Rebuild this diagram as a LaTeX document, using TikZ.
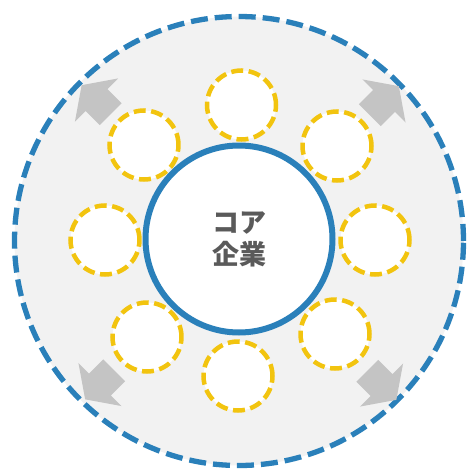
\documentclass[tikz,border=0pt]{standalone}
\usepackage{fontspec}
\newfontfamily\cjk{Noto Sans CJK JP}
\definecolor{cblue}{HTML}{2A80BA}
\definecolor{cyellow}{HTML}{F2C40F}
\definecolor{cbg}{HTML}{F2F2F2}
\definecolor{carrow}{HTML}{C4C4C4}
\definecolor{ctext}{HTML}{5A5A5A}
\tikzset{
  outerring/.style={circle, draw=cblue, fill=cbg, line width=5.3pt, dash pattern=on 17pt off 7pt, minimum size=449pt, inner sep=0pt},
  corering/.style={circle, draw=cblue, fill=white, line width=6pt, minimum size=187pt, inner sep=0pt, text=ctext, font=\cjk\bfseries\fontsize{27pt}{32pt}\selectfont, align=center},
  member/.style={circle, draw=cyellow, fill=white, line width=4.5pt, dash pattern=on 12pt off 5.5pt, minimum size=69pt, inner sep=0pt},
  blockarrow/.style={fill=carrow, draw=none}
}
\newcommand{\outarrow}[3]{%
  \fill[blockarrow, shift={(#1,#2)}, rotate=#3] (-20,-15.5) -- (0,-15.5) -- (0,-30.5) -- (21,0) -- (0,30.5) -- (0,15.5) -- (-20,15.5) -- cycle;}
\begin{document}
\begin{tikzpicture}[x=1pt,y=-1pt]
\useasboundingbox (0,0) rectangle (468,471);
\node[outerring] (outer) at (239,241) {};
\outarrow{96.5}{100}{135}
\outarrow{384}{101}{45}
\outarrow{100}{384.5}{225}
\outarrow{381.5}{385}{-45}
\node[member] (m1) at (241.5,105) {};
\node[member] (m2) at (337,146) {};
\node[member] (m3) at (375,240) {};
\node[member] (m4) at (335,334) {};
\node[member] (m5) at (238,376) {};
\node[member] (m6) at (147,337) {};
\node[member] (m7) at (105,240) {};
\node[member] (m8) at (144,145) {};
\node[corering] (core) at (239,239) {コア\\企業};
\end{tikzpicture}
\end{document}
